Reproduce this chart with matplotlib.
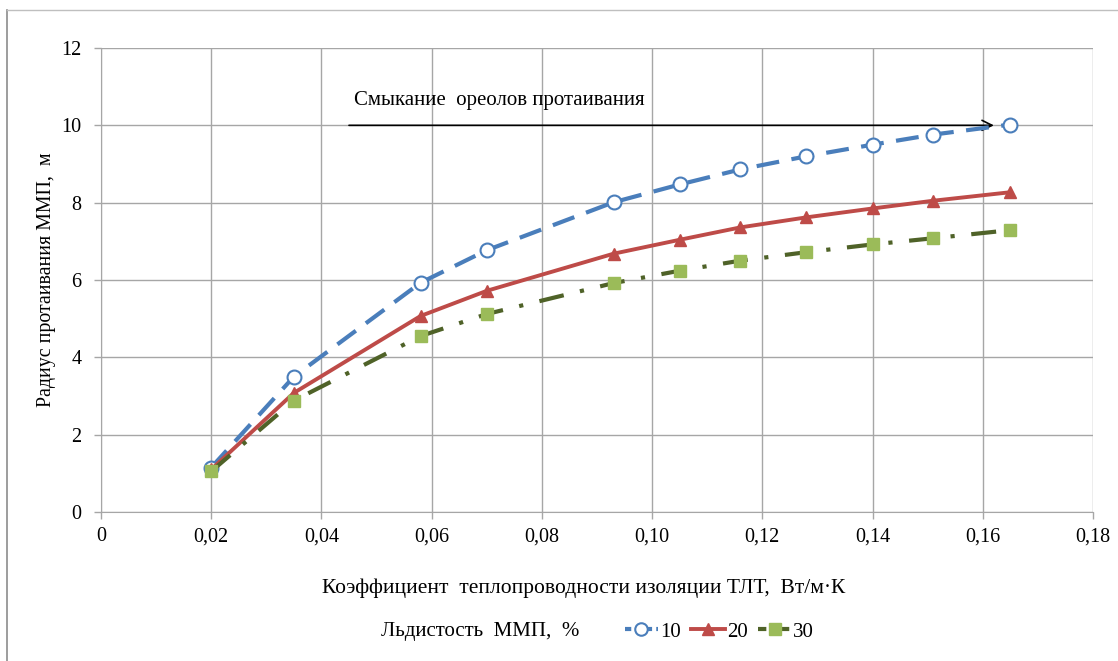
import matplotlib
matplotlib.use("Agg")
import matplotlib.pyplot as plt
from matplotlib.lines import Line2D
from matplotlib.ticker import FuncFormatter

plt.rcParams['font.family'] = ['Liberation Serif', 'DejaVu Serif']

# thermal conductivity of TLT insulation, W/m·K
k_vals = [0.020, 0.035, 0.058, 0.070, 0.093, 0.105, 0.116, 0.128, 0.140, 0.151, 0.165]
# thaw radius, m, for ice content 10 / 20 / 30 %
r_10 = [1.15, 3.50, 5.93, 6.77, 8.01, 8.47, 8.86, 9.20, 9.50, 9.76, 10.02]
r_20 = [1.10, 3.08, 5.07, 5.72, 6.68, 7.04, 7.36, 7.62, 7.85, 8.05, 8.27]
r_30 = [1.05, 2.88, 4.55, 5.12, 5.92, 6.24, 6.50, 6.72, 6.92, 7.08, 7.29]

x_ticks = [0, 0.02, 0.04, 0.06, 0.08, 0.10, 0.12, 0.14, 0.16, 0.18]
y_ticks = [0, 2, 4, 6, 8, 10, 12]

arrow_x = [0.045, 0.162]
arrow_y = 10.0

fig = plt.figure(figsize=(11.18, 6.61), dpi=100)
ax = fig.add_axes([0.0903, 0.2254, 0.8874, 0.7020])

blue = '#4A7EBB'
red = '#BE4B48'
dgreen = '#4F6228'
lgreen = '#9BBB59'

ax.plot(k_vals, r_10, color=blue, lw=3, dashes=(5.5, 3), marker='o', ms=10,
        mfc='white', mec=blue, mew=1.5, zorder=4)
ax.plot(k_vals, r_20, color=red, lw=2.8, marker='^', ms=9,
        mfc=red, mec=red, zorder=4)
ax.plot(k_vals, r_30, color=dgreen, lw=3, dashes=(6, 4, 1, 4), marker='s', ms=9,
        mfc=lgreen, mec=lgreen, zorder=4)

ax.annotate('', xy=(arrow_x[1], arrow_y), xytext=(arrow_x[0], arrow_y),
            arrowprops=dict(arrowstyle='->', color='black', lw=1.2,
                            mutation_scale=18, shrinkA=0, shrinkB=0), zorder=3)
ax.text(0.046, 10.4, 'Смыкание  ореолов протаивания', fontsize=15, ha='left', va='bottom')

ax.set_xlim(0, 0.18)
ax.set_ylim(0, 12)
ax.set_xticks(x_ticks)
ax.set_yticks(y_ticks)
ax.xaxis.set_major_formatter(FuncFormatter(
    lambda v, p: '0' if v == 0 else f'{v:.2f}'.replace('.', ',')))
ax.grid(True, color='#A6A6A6', lw=1)
ax.set_axisbelow(True)
for s in ['top', 'right']:
    ax.spines[s].set_visible(False)
for s in ['left', 'bottom']:
    ax.spines[s].set_color('#A6A6A6')
ax.tick_params(axis='both', colors='#A6A6A6', labelcolor='black', labelsize=14.5,
               length=5, width=1)
ax.tick_params(axis='x', pad=6)
ax.tick_params(axis='y', pad=9)

ax.set_ylabel('Радиус протаивания ММП,  м', fontsize=14.3, labelpad=4)
fig.text(0.522, 0.110, 'Коэффициент  теплопроводности изоляции ТЛТ,  Вт/м·К',
         fontsize=15.5, ha='center', va='center')

handles = [
    Line2D([], [], color=blue, lw=3, dashes=(1.5, 1), marker='o', ms=9,
           mfc='white', mec=blue, mew=1.5),
    Line2D([], [], color=red, lw=2.8, marker='^', ms=9, mfc=red, mec=red),
    Line2D([], [], color=dgreen, lw=3, dashes=(2, 1.5, 0.5, 1.5), marker='s', ms=9,
           mfc=lgreen, mec=lgreen),
]
fig.text(0.341, 0.044, 'Льдистость  ММП,  %', fontsize=15, ha='left', va='center')
fig.legend(handles, ['10', '20', '30'], loc='center left',
           bbox_to_anchor=(0.542, 0.044), ncol=3, frameon=False, fontsize=15,
           handlelength=1.6, handletextpad=0.1, columnspacing=0.5)

# chart border (top and left edges visible)
fig.add_artist(Line2D([7 / 1118, 7 / 1118], [0, 1 - 10 / 661], color='#8C8C8C', lw=1.2,
                      transform=fig.transFigure))
fig.add_artist(Line2D([7 / 1118, 1], [1 - 10 / 661, 1 - 10 / 661], color='#BFBFBF', lw=1,
                      transform=fig.transFigure))

fig.savefig('out.png', dpi=100)
